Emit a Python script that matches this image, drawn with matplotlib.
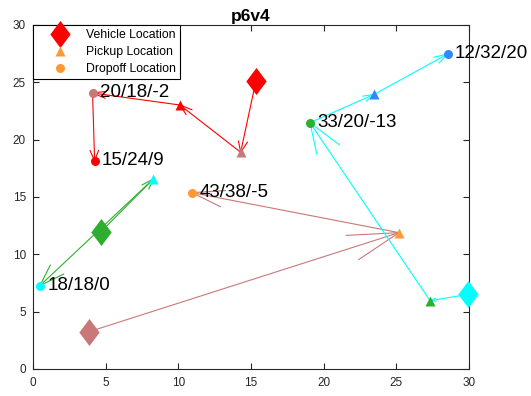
import numpy as np
import matplotlib
matplotlib.use('Agg')
import matplotlib.pyplot as plt
from matplotlib.path import Path
from matplotlib.lines import Line2D

plt.rcParams['font.family'] = ['Liberation Sans', 'DejaVu Sans']

# vehicles: start position and colour
veh_x = [15.34, 3.88, 4.68, 29.96]
veh_y = [25.12, 3.26, 11.97, 6.51]
veh_col = ['#ff0000', '#c97878', '#2eae2e', '#00ffff']

# requests: pickup, dropoff, colour, label
req_px = [10.11, 14.29, 25.18, 8.28, 27.32, 23.48]
req_py = [23.02, 18.90, 11.89, 16.57, 5.96, 23.95]
req_dx = [4.24, 4.10, 10.94, 0.48, 19.06, 28.53]
req_dy = [18.17, 24.07, 15.38, 7.27, 21.48, 27.47]
req_col = ['#ff0000', '#c97878', '#ff9933', '#00ffff', '#2eae2e', '#3388ff']
req_lbl = ['15/24/9', '20/18/-2', '43/38/-5', '18/18/0', '33/20/-13', '12/32/20']

# route of each vehicle: sequence of (request index, 'p' or 'd')
routes = [
    [(1, 'p'), (0, 'p'), (1, 'd'), (0, 'd')],
    [(2, 'p'), (2, 'd')],
    [(3, 'p'), (3, 'd')],
    [(4, 'p'), (4, 'd'), (5, 'p'), (5, 'd')],
]

# MATLAB-like diamond (taller than wide)
diamond = Path([(0, 1), (0.75, 0), (0, -1), (-0.75, 0), (0, 1)],
               [Path.MOVETO, Path.LINETO, Path.LINETO, Path.LINETO, Path.CLOSEPOLY])

fig = plt.figure(figsize=(5.31, 3.96), dpi=100)
ax = fig.add_axes([0.0621, 0.0682, 0.8211, 0.8687])


def arrow(x0, y0, x1, y1, c):
    u, v = x1 - x0, y1 - y0
    a, b = 0.15, 0.33
    hx = [x1 - a * (u + b * v), x1, x1 - a * (u - b * v)]
    hy = [y1 - a * (v - b * u), y1, y1 - a * (v + b * u)]
    ax.plot([x0, x1], [y0, y1], color=c, lw=0.8, zorder=2, clip_on=False)
    ax.plot(hx, hy, color=c, lw=0.8, zorder=2, clip_on=False)


for i, r in enumerate(routes):
    xs, ys = [veh_x[i]], [veh_y[i]]
    for k, t in r:
        if t == 'p':
            xs.append(req_px[k]); ys.append(req_py[k])
        else:
            xs.append(req_dx[k]); ys.append(req_dy[k])
    for j in range(len(xs) - 1):
        arrow(xs[j], ys[j], xs[j + 1], ys[j + 1], veh_col[i])

for i in range(len(veh_x)):
    ax.plot(veh_x[i], veh_y[i], marker=diamond, ms=19.5, color=veh_col[i],
            mec='none', zorder=3, clip_on=False)

for k in range(len(req_px)):
    ax.plot(req_px[k], req_py[k], '^', ms=7.5, color=req_col[k], mec='none', zorder=3)
    ax.plot(req_dx[k], req_dy[k], 'o', ms=6.5, color=req_col[k], mec='none', zorder=3)
    ax.text(req_dx[k] + 0.5, req_dy[k], req_lbl[k], fontsize=13.5, va='center',
            ha='left', zorder=4, clip_on=False)

ax.set_xlim(0, 30)
ax.set_ylim(0, 30)
ax.set_xticks(range(0, 31, 5))
ax.set_yticks(range(0, 31, 5))
gray = '#262626'
for s in ax.spines.values():
    s.set_color(gray)
    s.set_linewidth(0.8)
ax.tick_params(direction='in', length=4, width=0.8, colors=gray, labelsize=8.5,
               top=True, right=True)
ax.tick_params(axis='x', pad=6)
ax.tick_params(axis='y', pad=5)
ax.set_title('p6v4', fontsize=12.5, fontweight='bold', pad=3)

handles = [
    Line2D([], [], ls='none', marker=diamond, ms=19.5, color='#ff0000', mec='none'),
    Line2D([], [], ls='none', marker='^', ms=7.5, color='#ff9933', mec='none'),
    Line2D([], [], ls='none', marker='o', ms=6.5, color='#ff9933', mec='none'),
]
leg = ax.legend(handles, ['Vehicle Location', 'Pickup Location', 'Dropoff Location'],
                loc='upper left', bbox_to_anchor=(0, 1), borderaxespad=0,
                fontsize=8.8, handlelength=3.8, handletextpad=0.2,
                borderpad=0.35, labelspacing=0.4, fancybox=False, framealpha=1)
leg.get_frame().set_edgecolor('black')
leg.get_frame().set_linewidth(0.8)
leg.set_zorder(5)

fig.savefig('out.png', dpi=100)
